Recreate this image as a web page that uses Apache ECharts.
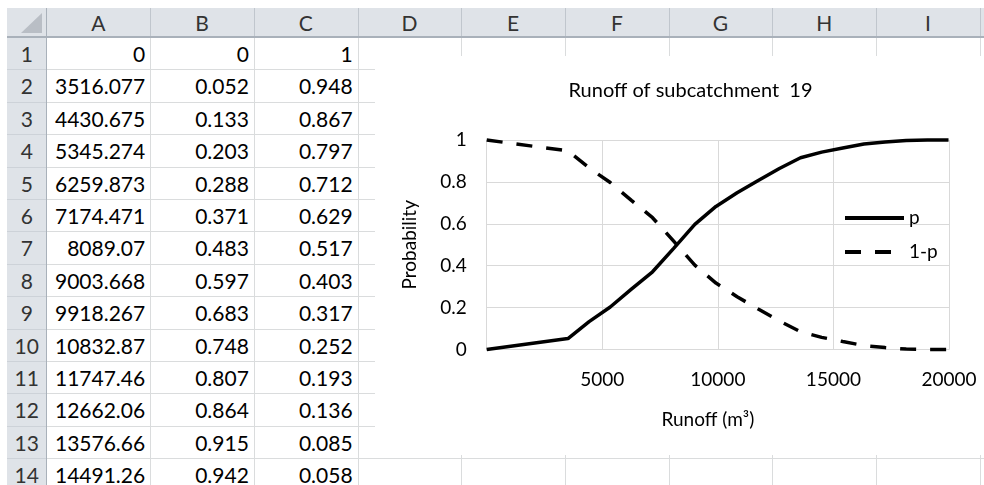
<!DOCTYPE html>
<html>
<head>
<meta charset="utf-8">
<script src="https://cdn.jsdelivr.net/npm/echarts@6/dist/echarts.min.js"></script>
<style>
  html, body { margin: 0; padding: 0; width: 984px; height: 485px; overflow: hidden; background: #fff; }
  body { position: relative; font-family: Lato, 'Liberation Sans', sans-serif; }
  .abs { position: absolute; box-sizing: border-box; }
  .txt { position: absolute; white-space: nowrap; font-size: 21px; color: #000; }
  #chart { position: absolute; left: 375px; top: 56px; width: 631px; height: 399px; background: #fff; }
</style>
</head>
<body>
<div id="sheet"></div>
<div id="chart"></div>
<script>
// Runoff volumes (m³) and exceedance probabilities for subcatchment 19
const runoff = [0, 3516.077, 4430.675, 5345.274, 6259.873, 7174.471, 8089.07, 9003.668, 9918.267, 10832.87,
                11747.46, 12662.06, 13576.66, 14491.26, 15405.86, 16320.46, 17235.06, 18149.65, 19064.25, 19978.85];
const probP = [0, 0.052, 0.133, 0.203, 0.288, 0.371, 0.483, 0.597, 0.683, 0.748,
               0.807, 0.864, 0.915, 0.942, 0.962, 0.981, 0.991, 0.998, 1, 1];
const probQ = [1, 0.948, 0.867, 0.797, 0.712, 0.629, 0.517, 0.403, 0.317, 0.252,
               0.193, 0.136, 0.085, 0.058, 0.038, 0.019, 0.009, 0.002, 0, 0];
const columnLetters = ['A', 'B', 'C', 'D', 'E', 'F', 'G', 'H', 'I'];
const seriesNames = ['p', '1-p'];
const yTicks = [0, 0.2, 0.4, 0.6, 0.8, 1];
const xTicks = [5000, 10000, 15000, 20000];

// ---- worksheet grid ----
const sheet = document.getElementById('sheet');
const HEAD_TOP = 8, HEAD_BOTTOM = 37, ROWHDR_LEFT = 7, ROWHDR_RIGHT = 46.5;
const COL_W = 103.7, ROW_H = 32.4, VISIBLE_ROWS = 14;
const colEdge = k => ROWHDR_RIGHT + COL_W * k;
const rowEdge = k => HEAD_BOTTOM + ROW_H * k;

function box(l, t, w, h, bg) {
  const d = document.createElement('div');
  d.className = 'abs';
  d.style.left = l + 'px'; d.style.top = t + 'px';
  d.style.width = w + 'px'; d.style.height = h + 'px';
  d.style.background = bg;
  sheet.appendChild(d);
  return d;
}
function text(str, l, t, w, align, color) {
  const d = document.createElement('div');
  d.className = 'txt';
  d.textContent = str;
  d.style.left = l + 'px'; d.style.top = t + 'px'; d.style.width = w + 'px';
  d.style.textAlign = align;
  if (color) d.style.color = color;
  sheet.appendChild(d);
}

// header bands
box(ROWHDR_LEFT, HEAD_TOP, 984 - ROWHDR_LEFT, HEAD_BOTTOM - HEAD_TOP, '#dfe3e8');
box(ROWHDR_LEFT, HEAD_BOTTOM, ROWHDR_RIGHT - ROWHDR_LEFT, 485 - HEAD_BOTTOM, '#dfe3e8');
// select-all triangle
const tri = box(21, 13, 21, 20, '#b9bec5');
tri.style.clipPath = 'polygon(100% 0, 100% 100%, 0 100%)';

// cell gridlines
for (let k = 1; k <= VISIBLE_ROWS; k++) {
  box(Math.round(ROWHDR_RIGHT), Math.round(rowEdge(k)), 984, 1, '#dadcdd');
  box(ROWHDR_LEFT, Math.round(rowEdge(k)), ROWHDR_RIGHT - ROWHDR_LEFT, 1, '#cdd2d8');
}
for (let k = 1; k <= columnLetters.length + 1; k++) {
  box(Math.round(colEdge(k)), HEAD_BOTTOM, 1, 485, '#dadcdd');
  box(Math.round(colEdge(k)), HEAD_TOP, 1, HEAD_BOTTOM - HEAD_TOP, '#c0c6cd');
}
// header borders
box(ROWHDR_LEFT, HEAD_BOTTOM - 1, 984, 2, '#a9b1ba');
box(Math.round(ROWHDR_RIGHT) - 1, HEAD_TOP, 1, 485, '#a9b1ba');

// column letters
columnLetters.forEach((c, i) => {
  text(c, colEdge(i), HEAD_TOP + 2, COL_W, 'center', '#333');
});
// row numbers and values
for (let r = 1; r <= VISIBLE_ROWS; r++) {
  const top = rowEdge(r - 1) + 4;
  text(String(r), ROWHDR_LEFT, top, ROWHDR_RIGHT - ROWHDR_LEFT, 'center', '#333');
  const vals = [runoff[r - 1], probP[r - 1], probQ[r - 1]];
  vals.forEach((v, c) => {
    text(String(v), colEdge(c), top, COL_W - 5, 'right');
  });
}

// ---- chart ----
const FONT = 'Lato, "Liberation Sans", sans-serif';
const chart = echarts.init(document.getElementById('chart'), null, { renderer: 'canvas' });
const pts = arr => runoff.map((x, i) => [x, arr[i]]);
chart.setOption({
  animation: false,
  backgroundColor: '#fff',
  textStyle: { fontFamily: FONT },
  title: {
    text: 'Runoff of subcatchment  19',
    left: 'center', top: 25, padding: 0,
    textStyle: { fontSize: 20, fontWeight: 'normal', color: '#000', fontFamily: FONT }
  },
  grid: { left: 111.7, top: 84, width: 462.3, height: 209.5, containLabel: false },
  legend: {
    orient: 'vertical', left: 468, top: 152, padding: 0,
    itemWidth: 59, itemHeight: 14, itemGap: 14,
    itemStyle: { color: 'rgba(0,0,0,0)', borderWidth: 0, opacity: 0 },
    lineStyle: { width: 4 },
    textStyle: { fontSize: 19, lineHeight: 20, color: '#000', fontFamily: FONT },
    data: seriesNames
  },
  xAxis: {
    type: 'value', min: 0, max: 20000, interval: 5000,
    name: 'Runoff (m³)', nameLocation: 'middle', nameGap: 61,
    nameTextStyle: { fontSize: 19, color: '#000', fontFamily: FONT, padding: [0, 20, 0, 0] },
    axisLine: { show: true, lineStyle: { color: '#d9d9d9', width: 1 } },
    axisTick: { show: false },
    axisLabel: {
      margin: 21, fontSize: 19, color: '#000', fontFamily: FONT,
      formatter: v => (xTicks.indexOf(v) >= 0 ? String(v) : '')
    },
    splitLine: { show: true, lineStyle: { color: '#d9d9d9', width: 1 } }
  },
  yAxis: {
    type: 'value', min: 0, max: 1, interval: 0.2,
    name: 'Probability', nameLocation: 'middle', nameGap: 67, nameRotate: 90,
    nameTextStyle: { fontSize: 19, color: '#000', fontFamily: FONT },
    axisLine: { show: false },
    axisTick: { show: false },
    axisLabel: {
      margin: 20, fontSize: 19, color: '#000', fontFamily: FONT,
      formatter: v => String(yTicks.find(t => Math.abs(t - v) < 1e-9) ?? v)
    },
    splitLine: { show: true, lineStyle: { color: '#d9d9d9', width: 1 } }
  },
  series: [
    {
      name: seriesNames[0], type: 'line', data: pts(probP),
      symbol: 'none', clip: false,
      lineStyle: { color: '#000', width: 3.5 },
      itemStyle: { color: '#000' }
    },
    {
      name: seriesNames[1], type: 'line', data: pts(probQ),
      symbol: 'none', clip: false,
      lineStyle: { color: '#000', width: 3.5, type: [16, 14] },
      itemStyle: { color: '#000' }
    }
  ]
});
</script>
</body>
</html>
